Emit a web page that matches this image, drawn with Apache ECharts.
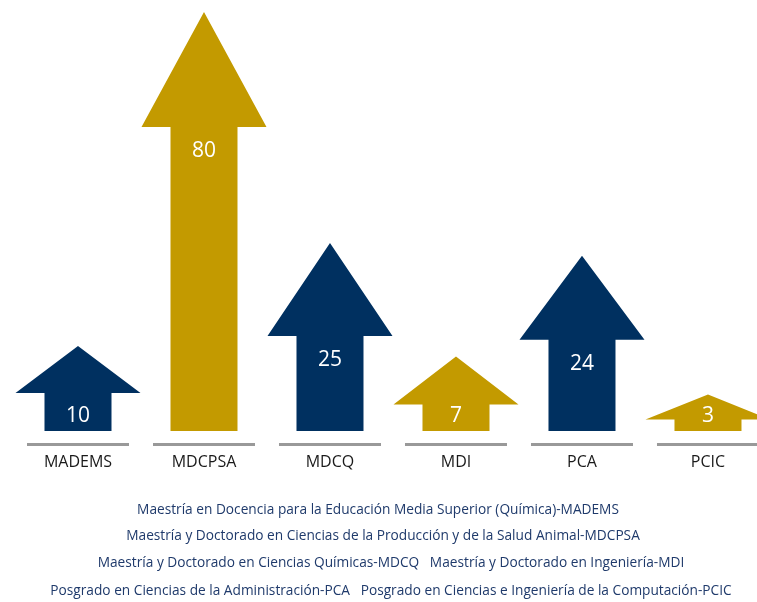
<!DOCTYPE html>
<html>
<head>
<meta charset="utf-8">
<script src="https://cdn.jsdelivr.net/npm/echarts@6/dist/echarts.min.js"></script>
<style>
  html, body { margin: 0; padding: 0; background: #ffffff; }
  #chart { width: 757px; height: 602px; }
</style>
</head>
<body>
<div id="chart"></div>
<script>
// ---- data ----
const categories = ['MADEMS', 'MDCPSA', 'MDCQ', 'MDI', 'PCA', 'PCIC'];
const values = [10, 80, 25, 7, 24, 3];
const footnotes = [
  'Maestría en Docencia para la Educación Media Superior (Química)-MADEMS',
  'Maestría y Doctorado en Ciencias de la Producción y de la Salud Animal-MDCPSA',
  'Maestría y Doctorado en Ciencias Químicas-MDCQ   Maestría y Doctorado en Ingeniería-MDI',
  'Posgrado en Ciencias de la Administración-PCA   Posgrado en Ciencias e Ingeniería de la Computación-PCIC'
];

// ---- styles ----
const NAVY = '#003060';
const GOLD = '#C39A00';
const arrowColors = [NAVY, GOLD, NAVY, GOLD, NAVY, GOLD];
const headHeights = [47, 115, 93, 48, 84, 25];
const FONT = '"Open Sans", "Noto Sans", sans-serif';

const chart = echarts.init(document.getElementById('chart'), null, { renderer: 'canvas' });

const footY = [510, 536, 563, 591];
const footX = [378, 383, 391, 391];

chart.setOption({
  backgroundColor: '#ffffff',
  animation: false,
  grid: { left: 15, top: 12, right: 0, bottom: 171, containLabel: false },
  xAxis: { type: 'value', min: -0.5, max: 5.389, show: false, splitLine: { show: false } },
  yAxis: { type: 'value', min: 0, max: 110.3, show: false, splitLine: { show: false } },
  series: [{
    type: 'custom',
    clip: false,
    data: values.map((v, i) => [i, v]),
    renderItem: function (params, api) {
      const i = params.dataIndex;
      const p0 = api.coord([api.value(0), 0]);
      const p1 = api.coord([api.value(0), api.value(1)]);
      const x = p0[0], base = p0[1], top = p1[1];
      const shaftW = 67, headW = 125;
      const tip = top - headHeights[i];
      const pts = [
        [x - shaftW / 2, base], [x - shaftW / 2, top], [x - headW / 2, top],
        [x, tip], [x + headW / 2, top], [x + shaftW / 2, top], [x + shaftW / 2, base]
      ];
      const labelY = Math.min(top + 24, base - 15);
      return {
        type: 'group',
        children: [
          { type: 'polygon', shape: { points: pts }, style: { fill: arrowColors[i] } },
          { type: 'rect', shape: { x: x - 51, y: base + 12, width: 102, height: 3 }, style: { fill: '#999999' } },
          { type: 'text', style: { text: String(api.value(1)), x: x, y: labelY, align: 'center', verticalAlign: 'middle',
              fill: '#ffffff', font: '21px ' + FONT } },
          { type: 'text', style: { text: categories[i], x: x, y: base + 31, align: 'center', verticalAlign: 'middle',
              fill: '#1a1a1a', font: '16px ' + FONT } }
        ]
      };
    }
  }],
  graphic: footnotes.map((t, k) => ({
    type: 'text',
    x: footX[k],
    y: footY[k],
    style: { text: t, align: 'center', verticalAlign: 'middle', fill: '#1F3A6B', font: '13.7px ' + FONT }
  }))
});
</script>
</body>
</html>
